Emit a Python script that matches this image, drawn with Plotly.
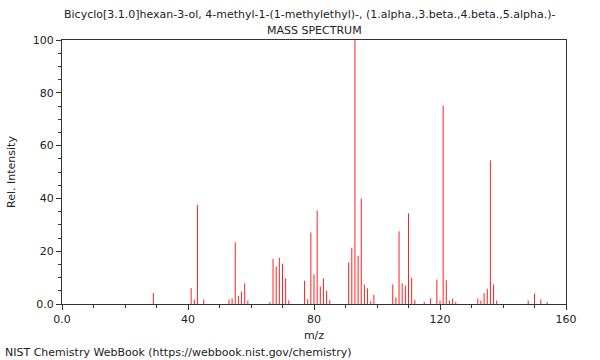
import plotly.graph_objects as go

mz = [29, 41, 42, 43, 45, 53, 54, 55, 56, 57, 58, 59,
      66, 67, 68, 69, 70, 71, 72, 77, 78, 79, 80, 81, 82, 83, 84, 85,
      91, 92, 93, 94, 95, 96, 97, 98, 99,
      105, 106, 107, 108, 109, 110, 111, 112, 115, 117, 119, 120, 121, 122, 123, 124, 125,
      132, 133, 134, 135, 136, 137, 138, 148, 150, 152, 154]
intensity = [4.2, 6.0, 1.7, 37.6, 1.7, 1.7, 2.1, 23.4, 3.1, 4.7, 7.8, 1.3,
             0.7, 17.1, 14.2, 17.5, 15.3, 9.7, 1.4, 8.8, 1.8, 27.1, 11.2, 35.4, 6.6, 9.7, 5.0, 1.4,
             15.7, 21.3, 100.0, 18.3, 40.0, 7.4, 5.9, 1.0, 3.5,
             7.4, 2.5, 27.5, 7.8, 6.9, 34.3, 10.0, 1.5, 0.8, 2.1, 9.3, 1.3, 75.2, 9.0, 1.3, 2.0, 0.8,
             2.1, 1.3, 4.1, 5.8, 54.4, 7.4, 1.3, 1.3, 3.9, 1.7, 0.8]

x_ticks = [0, 40, 80, 120, 160]
x_labels = ["0.0", "40", "80", "120", "160"]
y_ticks = [0, 20, 40, 60, 80, 100]
y_labels = ["0.0", "20", "40", "60", "80", "100"]

title_line1 = "Bicyclo[3.1.0]hexan-3-ol, 4-methyl-1-(1-methylethyl)-, (1.alpha.,3.beta.,4.beta.,5.alpha.)-"
title_line2 = "MASS SPECTRUM"
footer = "NIST Chemistry WebBook (https://webbook.nist.gov/chemistry)"

font = "DejaVu Sans"
txt_color = "#222222"

# stick spectrum: vertical segments built from the data arrays
xs, ys = [], []
for m, v in zip(mz, intensity):
    xs += [m, m, None]
    ys += [0, v, None]

fig = go.Figure()
fig.add_trace(go.Scatter(x=xs, y=ys, mode="lines",
                         line=dict(color="#ff2020", width=1), hoverinfo="skip"))

axis_common = dict(showline=True, linecolor="#333333", linewidth=1, mirror=True,
                   showgrid=False, zeroline=False, ticks="outside", ticklen=5,
                   automargin=False,
                   tickcolor="#333333", tickfont=dict(family=font, size=11, color=txt_color))

fig.update_layout(
    width=600, height=360,
    margin=dict(l=62, r=34, t=40, b=56),
    paper_bgcolor="white", plot_bgcolor="white",
    showlegend=False,
    font=dict(family=font, size=11, color=txt_color),
    xaxis=dict(range=[0, 160], tickvals=x_ticks, ticktext=x_labels,
               minor=dict(dtick=10, tick0=0, ticks="outside", ticklen=3, tickcolor="#333333"),
               title=dict(text="m/z", font=dict(family=font, size=11), standoff=6),
               **axis_common),
    yaxis=dict(range=[0, 100], tickvals=y_ticks, ticktext=y_labels,
               minor=dict(dtick=5, tick0=0, ticks="outside", ticklen=3, tickcolor="#333333"),
               title=dict(text="Rel. Intensity", font=dict(family=font, size=11), standoff=14),
               **axis_common),
)

annots = [
    dict(text=title_line1, xref="paper", yref="paper", x=0.5, xshift=-4, y=1, yshift=26,
         yanchor="middle"),
    dict(text=title_line2, xref="paper", yref="paper", x=0.5, y=1, yshift=10, yanchor="middle"),
    dict(text=footer, xref="paper", yref="paper", x=0, xshift=-59, xanchor="left",
         y=0, yshift=-48, yanchor="middle"),
]
for a in annots:
    fig.add_annotation(showarrow=False, font=dict(family=font, size=11, color=txt_color), **a)

fig.write_html("out.html", config={"displayModeBar": False},
               post_script="document.body.style.margin='0px';")
